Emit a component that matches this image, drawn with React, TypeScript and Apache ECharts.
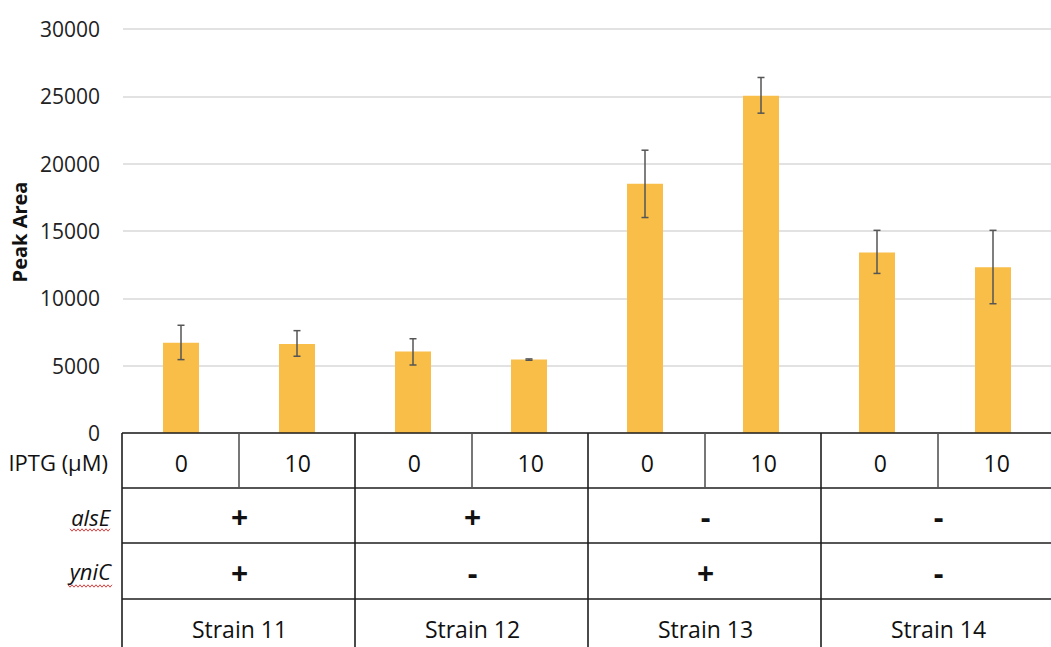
import React, { useEffect, useRef } from "react";
import * as echarts from "echarts";

const categories = ["S11-0", "S11-10", "S12-0", "S12-10", "S13-0", "S13-10", "S14-0", "S14-10"];
const iptgLabels = ["0", "10", "0", "10", "0", "10", "0", "10"];
const peakArea = [6700, 6600, 6050, 5450, 18500, 25050, 13400, 12300];
const errorUp = [1300, 1000, 950, 50, 2500, 1350, 1650, 2750];
const errorDown = [1250, 900, 1000, 50, 2500, 1300, 1550, 2700];
const strains = ["Strain 11", "Strain 12", "Strain 13", "Strain 14"];
const alsE = ["+", "+", "-", "-"];
const yniC = ["+", "-", "+", "-"];
const rowLabels = ["IPTG (\u00b5M)", "alsE", "yniC"];

const FONT = "'Open Sans', sans-serif";
const GRID_LEFT = 123;
const GRID_TOP = 29;
const GRID_W = 932;
const GRID_H = 404;
const ROWS = [433, 488, 543, 599, 670];

function wavy(x0: number, x1: number, y: number) {
  const pts: number[][] = [];
  let up = true;
  for (let x = x0; x <= x1; x += 2) {
    pts.push([x, up ? y - 1.2 : y + 1.2]);
    up = !up;
  }
  return pts;
}

export default function App() {
  const ref = useRef<HTMLDivElement>(null);
  useEffect(() => {
    document.body.style.margin = "0";
    if (!ref.current) return;
    const chart = echarts.init(ref.current, undefined, { renderer: "svg" });
    const cellW = GRID_W / categories.length;
    const xL = GRID_LEFT - 1;
    const xR = GRID_LEFT + GRID_W;
    const lineStyle = { stroke: "#1e1e1e", lineWidth: 1.6 };
    const g: any[] = [];
    for (let r = 0; r < 4; r++) {
      g.push({ type: "line", shape: { x1: xL, y1: ROWS[r], x2: xR, y2: ROWS[r] }, style: lineStyle, z: 10 });
    }
    g.push({ type: "line", shape: { x1: xL, y1: ROWS[0], x2: xL, y2: ROWS[4] }, style: lineStyle, z: 10 });
    for (let k = 1; k < strains.length; k++) {
      const x = Math.round(GRID_LEFT + 2 * cellW * k) - 1;
      g.push({ type: "line", shape: { x1: x, y1: ROWS[0], x2: x, y2: ROWS[4] }, style: lineStyle, z: 10 });
    }
    for (let k = 0; k < strains.length; k++) {
      const x = Math.round(GRID_LEFT + cellW * (2 * k + 1)) - 1;
      g.push({ type: "line", shape: { x1: x, y1: ROWS[0], x2: x, y2: ROWS[1] }, style: { stroke: "#555", lineWidth: 1.6 }, z: 10 });
    }
    iptgLabels.forEach((t, i) => {
      g.push({
        type: "text", x: GRID_LEFT + cellW * (i + 0.5), y: (ROWS[0] + ROWS[1]) / 2 + 2,
        style: { text: t, font: `23px ${FONT}`, fill: "#111", align: "center", verticalAlign: "middle" },
      });
    });
    const strainRow = (arr: string[], r: number, font: string, dy: number) => {
      arr.forEach((t, k) => {
        g.push({
          type: "text", x: GRID_LEFT + cellW * (2 * k + 1), y: (ROWS[r] + ROWS[r + 1]) / 2 + dy,
          style: { text: t, font, fill: "#111", align: "center", verticalAlign: "middle" },
        });
      });
    };
    strainRow(alsE, 1, `bold 30px ${FONT}`, 1);
    strainRow(yniC, 2, `bold 30px ${FONT}`, 1);
    strainRow(strains, 3, `23px ${FONT}`, -6);
    g.push({
      type: "text", x: 108, y: 462,
      style: { text: rowLabels[0], font: `22px ${FONT}`, fill: "#111", align: "right", verticalAlign: "middle" },
    });
    g.push({
      type: "text", x: 110, y: 517,
      style: { text: rowLabels[1], font: `italic 22px ${FONT}`, fill: "#111", align: "right", verticalAlign: "middle" },
    });
    g.push({
      type: "text", x: 111, y: 571,
      style: { text: rowLabels[2], font: `italic 22px ${FONT}`, fill: "#111", align: "right", verticalAlign: "middle" },
    });
    g.push({ type: "polyline", shape: { points: wavy(70, 110, 530) }, style: { stroke: "#e2403f", lineWidth: 1, fill: null } });
    g.push({ type: "polyline", shape: { points: wavy(68, 112, 586) }, style: { stroke: "#e2403f", lineWidth: 1, fill: null } });
    g.push({
      type: "text", x: 19, y: 232, rotation: Math.PI / 2,
      style: { text: "Peak Area", font: `bold 20px ${FONT}`, fill: "#111", align: "center", verticalAlign: "middle" },
    });

    const errData = peakArea.map((v, i) => [i, v + errorUp[i], v - errorDown[i]]);

    chart.setOption({
      animation: false,
      grid: { left: GRID_LEFT, top: GRID_TOP, width: GRID_W, height: GRID_H },
      xAxis: {
        type: "category",
        data: categories,
        axisLine: { show: false },
        axisTick: { show: false },
        axisLabel: { show: false },
      },
      yAxis: {
        type: "value",
        min: 0,
        max: 30000,
        interval: 5000,
        axisLine: { show: false },
        axisTick: { show: false },
        axisLabel: { color: "#222", fontSize: 21, fontFamily: FONT, margin: 23, formatter: (v: number) => String(v) },
        splitLine: { lineStyle: { color: "#d9d9d9", width: 1.5 } },
      },
      series: [
        {
          type: "bar",
          data: peakArea,
          barWidth: 36,
          itemStyle: { color: "#F8BE48" },
        },
        {
          type: "custom",
          data: errData,
          z: 5,
          renderItem: (params: any, api: any) => {
            const x = api.value(0);
            const hi = api.coord([x, api.value(1)]);
            const lo = api.coord([x, api.value(2)]);
            const st = { stroke: "#555", lineWidth: 1.5 };
            return {
              type: "group",
              children: [
                { type: "line", shape: { x1: hi[0], y1: hi[1], x2: lo[0], y2: lo[1] }, style: st },
                { type: "line", shape: { x1: hi[0] - 3.5, y1: hi[1], x2: hi[0] + 3.5, y2: hi[1] }, style: st },
                { type: "line", shape: { x1: lo[0] - 3.5, y1: lo[1], x2: lo[0] + 3.5, y2: lo[1] }, style: st },
              ],
            };
          },
        },
      ],
      graphic: g,
    });
    return () => chart.dispose();
  }, []);
  return <div ref={ref} style={{ width: 1051, height: 647 }} />;
}
